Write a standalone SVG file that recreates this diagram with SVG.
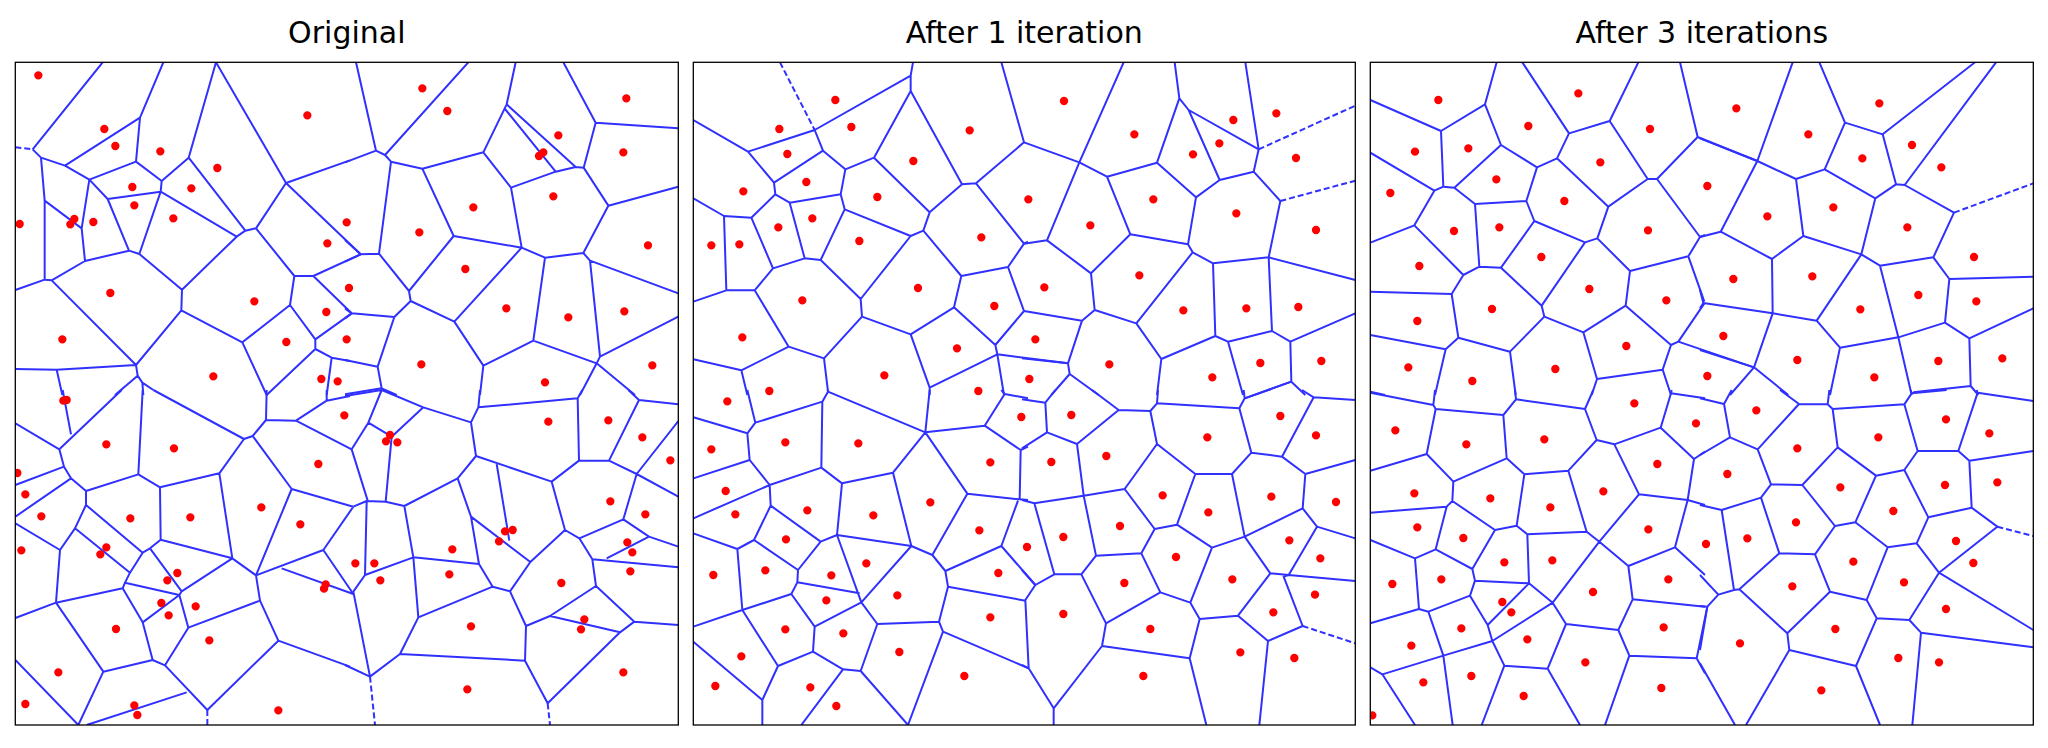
<svg xmlns="http://www.w3.org/2000/svg" width="2048" height="748" viewBox="0 0 2048 748">
<style>
.e{fill:none;stroke:#3030ff;stroke-width:6;stroke-linejoin:round}
.d{fill:none;stroke:#3030ff;stroke-width:6;stroke-dasharray:18 9}
.p{fill:none;stroke:#ff0000;stroke-width:25;stroke-linecap:round}
.f{fill:none;stroke:#000;stroke-width:1.3}
.t{font-family:"DejaVu Sans","Liberation Sans",sans-serif;font-size:30px;fill:#000;text-anchor:middle}
</style>
<defs>
<clipPath id="c1"><rect x="15.3" y="62.3" width="663" height="662.7"/></clipPath>
<clipPath id="c2"><rect x="693.3" y="62.3" width="662" height="662.7"/></clipPath>
<clipPath id="c3"><rect x="1370.3" y="62.3" width="663" height="662.7"/></clipPath>
</defs>
<rect width="2048" height="748" fill="#fff"/>
<text class="t" x="346.8" y="43">Original</text>
<text class="t" x="1024.3" y="43">After 1 iteration</text>
<text class="t" x="1701.8" y="43">After 3 iterations</text>

<g id="panel-original" clip-path="url(#c1)">
<g transform="translate(10,55) scale(0.333333)">
<path class="e" d="M68 283L278 22M68 283L93 308L165 332L238 374M165 332L390 188L460 22M390 188L378 320L238 374M378 320L455 378L536 308L618 22L828 384L1020 316M828 384L738 520L706 527L680 545M828 384L1052 598M536 308L706 527M455 378L452 410L680 545M293 432L452 410M238 374L293 432L357 587L388 597L452 410M680 545L516 704L388 597M516 704L514 766M357 587L225 618L215 520L238 374M93 308L104 437L104 674L16 705M104 437L215 520M104 674L125 676L225 618M125 676L378 930L514 766L697 862L840 750L853 663L738 520M853 663L910 663L1052 598M910 663L1025 775M840 750L916 853L1025 775M916 853L916 882L965 908L1020 918M965 908L950 1020M916 882L770 1020L697 862M16 942L140 944L378 930L383 962L315 1020M383 962L397 983L400 1020M397 983L430 1005M140 944L157 1020"/>
<path class="d" d="M16 277L68 283"/>
<path class="p" d="M85 61h0M892 181h0M283 222h0M316 273h0M451 289h0M622 339h0M367 396h0M544 400h0M373 451h0M490 490h0M29 507h0M181 508h0M193 492h0M250 501h0M952 565h0M733 739h0M949 771h0M301 714h0M157 853h0M829 861h0M610 964h0M934 972h0M983 979h0"/>
</g>
<g transform="translate(345,55) scale(0.333333)">
<path class="e" d="M33 22L93 287L0 322M93 287L120 300L138 320M120 300L370 22M138 320L102 596L47 598L0 555M47 598L0 620M138 320L232 341L415 292L485 148L512 22M485 148L692 336M480 162L632 350M415 292L498 398L632 350L692 336L716 338L752 203L655 22M752 203L1000 220M716 338L790 452L1000 395M790 452L715 594L600 608L530 578L498 398M232 341L326 543L530 578M530 578L328 800M326 543L192 708L102 596M192 708L197 738L148 786L20 775L0 760M20 775L0 790M148 786L98 935L0 915M98 935L110 1000L0 1018M110 1000L155 1020M197 738L328 800L415 932L565 857L600 608M565 857L755 925M715 594L735 617L1000 715M735 617L765 905L1000 785M755 925L765 905M755 925L870 1020M755 925L705 1020M415 932L405 1020"/>
<path class="p" d="M232 100h0M307 168h0M844 130h0M640 241h0M595 292h0M582 303h0M835 292h0M625 424h0M385 457h0M5 502h0M223 532h0M909 571h0M361 642h0M12 699h0M484 760h0M670 787h0M838 769h0M5 853h0M229 928h0M922 931h0M600 982h0"/>
</g>
<g transform="translate(10,390) scale(0.333333)">
<path class="e" d="M158 0L183 133M148 178L335 0M16 100L148 178L162 230L183 265L228 303L228 345M162 230L16 285M183 265L16 380M228 303L385 253L398 0M385 253L450 292L628 250L702 147L430 0M702 147L728 138L768 90L770 0M768 90L858 92L950 32L950 0M950 32L1020 18M858 92L1025 178M728 138L845 297L1030 350M845 297L738 556M450 292L452 449L667 505L628 250M452 449L420 475L398 488L228 345M228 345L195 415L150 480L16 400M195 415L360 548M150 480L138 638L16 684M138 638L338 595L345 578L360 548L398 488M345 578L508 615L515 604L667 505L738 556M420 475L515 604M508 615L398 697L338 595M398 697L428 810L465 826L535 713L508 615M535 713L750 632L738 556L940 480L1030 350M940 480L1030 612M815 535L1030 612M750 632L805 752L1020 830M805 752L592 960L465 826M428 810L280 845L138 638M280 845L205 1005M16 810L205 1005M230 1005L530 907"/>
<path class="d" d="M592 960L592 1005"/>
<path class="p" d="M160 32h0M170 30h0M289 163h0M492 175h0M1003 76h0M22 249h0M46 313h0M94 379h0M361 385h0M541 382h0M754 352h0M925 222h0M871 403h0M34 481h0M289 472h0M271 493h0M502 549h0M472 571h0M947 583h0M942 596h0M454 639h0M476 676h0M557 649h0M318 717h0M598 751h0M145 847h0M46 942h0M373 946h0M382 975h0M805 961h0"/>
</g>
<g transform="translate(345,390) scale(0.333333)">
<path class="e" d="M0 18L110 0L235 52L378 97L400 52L405 0M110 0L70 98L20 178L68 332M70 98L140 140L235 52M140 140L122 335M400 52L698 25L712 0M698 25L702 212L792 212L882 30L1000 43M882 30L850 0M792 212L875 252L1000 93M875 252L1000 320M875 252L835 388L703 445L742 508L1000 532M835 388L912 440L1000 470M912 440L785 505M703 445L660 420M742 508L753 588L615 678L825 727L868 695L753 588M868 695L1000 705M825 727L608 940L540 812L543 708L615 678M543 708L495 604L556 516L660 420M540 812L165 792L75 860L0 825M75 860L25 605L60 555L65 335M60 555L205 502L178 348M205 502L220 682L165 792M205 502L402 522L378 380M402 522L443 590L220 682M443 590L495 604M378 380L556 516M455 222L493 452M378 380L338 265L393 198L378 97M393 198L620 275L702 212M620 275L660 420M338 265L178 348L122 335L65 333L25 350"/>
<path class="d" d="M75 860L90 1005M608 940L615 1005"/>
<path class="p" d="M135 135h0M123 154h0M157 157h0M610 95h0M790 91h0M892 142h0M976 211h0M796 334h0M901 373h0M480 424h0M503 420h0M462 454h0M322 478h0M847 457h0M862 487h0M31 520h0M88 520h0M106 571h0M313 553h0M856 544h0M649 579h0M378 709h0M718 688h0M708 718h0M835 847h0M367 898h0"/>
</g>
</g>

<g id="panel-iter1" clip-path="url(#c2)">
<g transform="translate(688,55) scale(0.333333)">
<path class="e" d="M16 195L180 290L380 225L668 62L675 22M380 225L405 287M668 62L668 108L558 308L472 343L405 287M668 108L822 388L864 385L1008 262L940 22M405 287L258 383L180 290M258 383L262 418L305 443L458 418L472 343M458 418L470 463L668 543L706 527L725 472L558 308M725 472L822 388M470 463L398 615L350 610L305 443M262 418L190 488L108 483L16 430M108 483L115 706L16 740M190 488L255 640L350 610M255 640L200 706L115 706M200 706L302 875L160 946L16 913M160 946L178 1020M302 875L408 910L420 1010M408 910L522 785L518 732L398 615M518 732L668 543M864 385L1008 566L1020 560M706 527L820 663L960 636L1008 566M960 636L1008 768M820 663L798 757L668 838L522 785M798 757L922 870L1008 768M922 870L928 898L1140 925M928 898L725 998L668 838M725 998L725 1020M928 898L948 1020"/>
<path class="d" d="M276 22L380 225"/>
<path class="p" d="M442 135h0M274 222h0M490 216h0M845 226h0M298 297h0M676 318h0M355 381h0M166 409h0M568 426h0M373 490h0M271 517h0M514 558h0M70 571h0M154 568h0M880 547h0M690 699h0M343 736h0M919 753h0M163 847h0M807 880h0M589 961h0"/>
</g>
<g transform="translate(1022,55) scale(0.333333)">
<path class="e" d="M6 262L172 322L305 22M172 322L255 365L405 323L472 130L458 22M472 130L500 165L710 283L670 22M500 165L593 375L522 427L405 323M710 283L695 350L593 375M522 427L498 568L325 538L255 365M695 350L775 438L740 607L573 625L512 592L498 568M325 538L207 655L75 556L172 322M75 556L6 566M207 655L218 765L180 797L6 768M180 797L138 925L0 910M138 925L143 957L88 1020M143 957L230 1020M218 765L343 805L512 592M343 805L418 912L405 1020M418 912L580 843L573 625M580 843L618 860L663 1020M618 860L750 828L740 607L1000 675M750 828L805 860L1000 775M805 860L808 980L668 1030M808 980L850 1020"/>
<path class="d" d="M710 283L1000 152M775 438L1000 377"/>
<path class="p" d="M126 138h0M337 238h0M634 195h0M763 175h0M592 265h0M513 298h0M822 309h0M19 433h0M394 433h0M643 475h0M205 511h0M882 525h0M352 661h0M67 697h0M484 766h0M673 760h0M829 756h0M40 853h0M262 928h0M715 924h0M898 918h0M22 972h0M571 967h0"/>
</g>
<g transform="translate(688,390) scale(0.333333)">
<path class="e" d="M178 0L202 98L403 35L420 5L712 127L725 0M420 5L419 0M712 127L890 107L950 12L940 0M950 12L1020 25M890 107L998 180L1020 170M998 180L995 328L838 311L712 127M995 328L1020 330M990 332L940 468L772 543L733 495L838 311M940 468L1042 585M733 495L670 468M772 543L780 590L1012 632M780 590L753 695L568 702L520 637L670 468M753 695L765 725L1022 835M765 725L660 1005M520 637L380 710M568 702L518 843L465 838L340 1005M518 843L660 1005M465 838L375 785L380 710L310 612L328 577L330 540L398 455L447 435L670 468L615 248L712 127M328 577L515 610M447 435L520 637M447 435L462 280L615 248M462 280L400 233L403 35M400 233L245 285L185 210L178 130L202 98M178 130L16 82M185 210L16 265M245 285L16 385M245 285L248 347L398 455M248 347L198 450L148 477L16 430M148 477L163 660L310 612M198 450L330 540M163 660L16 710M163 660L270 828L375 785M270 828L223 930L16 755M223 930L223 1005"/>
<path class="p" d="M118 34h0M244 3h0M871 3h0M1000 81h0M70 178h0M292 157h0M511 160h0M907 217h0M113 303h0M142 373h0M358 361h0M556 376h0M727 337h0M874 421h0M294 448h0M232 541h0M76 555h0M430 556h0M535 520h0M931 549h0M415 631h0M628 616h0M907 682h0M292 718h0M466 730h0M634 786h0M160 799h0M82 888h0M367 892h0M445 948h0M829 858h0"/>
</g>
<g transform="translate(1022,390) scale(0.333333)">
<path class="e" d="M0 28L70 38L100 0M70 38L75 127L0 175M75 127L165 162L290 60L210 0M290 60L385 63L405 40L408 0M405 40L652 55L668 25L665 0M668 25L808 -25M652 55L688 188L780 200L875 22L840 0M875 22L1000 30M780 200L850 252L1000 210M850 252L842 355L885 410L1000 445M885 410L800 555L1000 573M800 555L745 550L668 440L842 355M800 555L785 560L842 708L738 753L712 1005M738 753L648 677L745 550M668 440L630 252L688 188M630 252L520 252L405 162L385 63M405 162L308 297L185 317L165 162M185 317L37 340L0 330M37 340L97 553L178 553L222 497L185 317M222 497L358 490L398 417L308 297M398 417L465 404L520 252M465 404L570 473L668 440M570 473L505 638L415 607L358 490M415 607L252 700L178 553M252 700L240 768L95 955L95 1005M95 955L20 835L10 630L40 585L97 553M40 585L0 540M20 835L0 825M240 768L503 805L533 687L505 638M533 687L648 677M503 805L553 1005"/>
<path class="d" d="M842 708L1000 760"/>
<path class="p" d="M148 75h0M775 78h0M882 136h0M88 216h0M253 198h0M556 142h0M422 316h0M748 320h0M942 336h0M559 367h0M124 441h0M15 471h0M294 408h0M802 451h0M462 501h0M895 505h0M631 568h0M307 579h0M879 614h0M754 667h0M124 672h0M385 717h0M655 787h0M817 804h0M364 858h0"/>
</g>
</g>

<g id="panel-iter3" clip-path="url(#c3)">
<g transform="translate(1365,55) scale(0.333333)">
<path class="e" d="M16 135L228 228L360 148L395 22M360 148L408 270L268 398L235 395L228 228M408 270L516 337L576 310L612 235L472 22M612 235L734 198L820 22M734 198L848 372L876 372L998 246L945 22M998 246L1177 318M876 372L1005 546L1020 540M848 372L730 455L576 310M730 455L697 550L660 562L508 498L484 438L516 337M484 438L330 447L268 398M235 395L208 407L16 293M208 407L148 511L16 563M148 511L295 660L343 635L330 447M343 635L408 638L508 498M408 638L530 752L660 562M530 752L538 785M697 550L795 648L970 604L1005 546M970 604L1018 740M795 648L782 752L655 832L538 785L435 890L280 848L260 717L295 660M260 717L16 710M280 848L242 883L16 840M242 883L210 1020M435 890L452 1020M655 832L696 972L680 1020M696 972L893 944L918 870L782 752M918 870L940 860L1167 937M940 860L1018 745M893 944L918 1020M16 1010L60 1020"/>
<path class="p" d="M220 135h0M640 115h0M150 290h0M310 280h0M490 213h0M855 222h0M76 414h0M394 373h0M706 322h0M598 438h0M267 528h0M403 517h0M849 526h0M529 606h0M163 633h0M673 702h0M904 736h0M381 762h0M157 798h0M784 873h0M130 937h0M571 942h0M322 978h0"/>
</g>
<g transform="translate(1700,55) scale(0.333333)">
<path class="e" d="M0 250L172 318L278 22M172 318L288 372L374 343L435 203L358 22M435 203L548 238L825 22M548 238L588 388L614 390L888 22M614 390L762 473M588 388L526 430L374 343M526 430L484 598L310 543L288 372M310 543L216 612L62 530L172 318M62 530L0 546M216 612L218 775L10 744L0 705M10 744L0 760M218 775L350 797L484 598L540 632L700 607L762 473M700 607L748 672L1000 665M748 672L735 803L595 847L540 632M595 847L420 878L350 797M420 878L390 1020M595 847L635 1020M735 803L808 850L1000 760M808 850L812 993L640 1012M812 993L835 1020M218 775L162 937L0 885M162 937L90 1020M162 937L265 1020"/>
<path class="d" d="M762 473L1000 385"/>
<path class="p" d="M109 160h0M538 145h0M325 238h0M636 270h0M487 310h0M724 337h0M22 393h0M400 457h0M202 484h0M622 517h0M822 606h0M100 672h0M337 664h0M655 720h0M829 739h0M481 763h0M70 843h0M292 915h0M715 918h0M907 910h0M22 963h0M523 967h0"/>
</g>
<g transform="translate(1365,390) scale(0.333333)">
<path class="e" d="M16 8L205 45L210 0M205 45L212 57L415 75L453 28L450 0M453 28L660 57L685 0M660 57L695 150L748 163L887 113L918 10L920 0M918 10L1020 25M887 113L987 207L1020 185M987 207L968 330L822 313L748 163M968 330L1020 345M968 330L930 472L790 528L703 455L822 313M930 472L1020 555M703 455L665 425L610 242L695 150M610 242L478 253L425 205L415 75M425 205L265 275L185 192L212 57M185 192L16 242M265 275L262 333L245 350L16 368M262 333L390 420L455 407L478 253M455 407L487 433L665 425M487 433L492 580L330 572L322 537L390 420M322 537L212 478L245 350M212 478L150 505L16 450M150 505L162 657L16 700M162 657L190 665L315 617L330 572M315 617L368 705L492 580L563 638L703 455M563 638L382 753L368 705M382 753L235 797L190 665M235 797L52 853L16 832M52 853L150 1005M235 797L263 1005M382 753L418 827L548 836L603 702L563 638M603 702L760 720L803 628L790 528M803 628L1020 650M760 720L793 797L995 805L1027 650M995 805L1020 850M793 797L720 1005M548 836L645 1005M418 827L350 1005"/>
<path class="p" d="M91 121h0M304 163h0M538 148h0M808 40h0M993 100h0M148 310h0M376 325h0M556 352h0M715 304h0M877 222h0M157 412h0M295 444h0M850 418h0M418 517h0M562 511h0M82 582h0M229 568h0M684 606h0M910 568h0M412 636h0M439 667h0M289 715h0M487 748h0M896 712h0M139 767h0M661 817h0M175 877h0M319 858h0M889 894h0M476 918h0M22 976h0"/>
</g>
<g transform="translate(1700,390) scale(0.333333)">
<path class="e" d="M0 25L72 42L95 0M72 42L90 142L0 195M90 142L173 178L297 42L240 0M297 42L383 43L388 0M383 43L398 57L613 43L635 10L632 0M635 10L740 0M613 43L653 183L775 183L833 8L830 0M833 8L1000 33M775 183L808 212L1000 183M808 212L815 353L892 410L717 548L1000 720M717 548L650 460L685 382L815 353M685 382L613 240L653 183M613 240L528 257L413 172L398 57M413 172L307 285L213 283L173 178M213 283L183 323L65 360L0 345M65 360L102 600L118 598L262 730M118 598L238 490L183 323M238 490L345 493L405 408L307 285M405 408L466 397L528 257M466 397L563 472L650 460M563 472L500 630L390 605L345 493M390 605L262 730L268 780L468 828L530 685L500 630M530 685L628 690L717 548M628 690L663 728L1000 772M663 728L637 1005M468 828L540 1005M268 780L138 1005M102 600L55 614L0 555M55 614L22 650L0 780M22 650L0 648M0 820L105 1005"/>
<path class="d" d="M892 410L1000 438"/>
<path class="p" d="M169 61h0M738 88h0M868 130h0M535 142h0M292 175h0M82 252h0M892 277h0M735 285h0M421 292h0M580 363h0M288 397h0M142 445h0M18 462h0M768 453h0M820 519h0M460 515h0M612 577h0M277 589h0M738 657h0M406 717h0M120 760h0M595 804h0M717 817h0M364 901h0"/>
</g>
</g>

<g id="frames">
<rect class="f" x="15.3" y="62.3" width="663" height="662.7"/>
<rect class="f" x="693.3" y="62.3" width="662" height="662.7"/>
<rect class="f" x="1370.3" y="62.3" width="663" height="662.7"/>
</g>
</svg>
